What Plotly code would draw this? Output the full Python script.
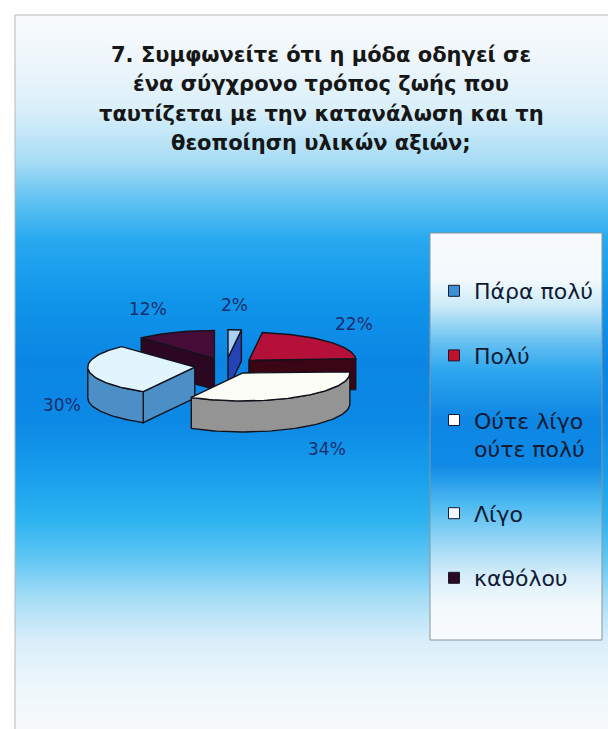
import numpy as np
import plotly.graph_objects as go

# ---- data -------------------------------------------------------------
categories = ["Πάρα πολύ", "Πολύ", "Ούτε λίγο ούτε πολύ", "Λίγο", "καθόλου"]
legend_text = ["Πάρα πολύ", "Πολύ", "Ούτε λίγο<br>ούτε πολύ", "Λίγο", "καθόλου"]
percent = [2, 22, 34, 30, 12]
title_lines = [
    "7. Συμφωνείτε ότι η μόδα οδηγεί σε",
    "ένα σύγχρονο τρόπος ζωής που",
    "ταυτίζεται με την κατανάλωση και τη",
    "θεοποίηση υλικών αξιών;",
]

# ---- styling ----------------------------------------------------------
top_colors = ["#a9d0f2", "#b5103a", "#fdfdf7", "#e0f5fd", "#440c36"]
side_colors = ["#2443b5", "#3a0615", "#949494", "#4b8fc6", "#2c0722"]
legend_colors = ["#3d8fd8", "#c0122e", "#ffffff", "#eefaff", "#2b0923"]
OUTLINE = "#12121c"
LABEL_COLOR = "#1c2d6e"
FONT = "DejaVu Sans"

W, H = 608, 729
CX, CY = 226.0, 366.0      # pie centre (pixels)
RX, RY = 107.0, 28.0       # ellipse radii of the tilted pie
DEPTH = 31.0               # thickness of the pie
EXPLODE = 0.294            # radial pull of each slice (fraction of radius)

bg_stops = [(15, "#f8fbfd"), (60, "#eef6fb"), (110, "#d9eff9"), (160, "#a9ddf6"),
            (200, "#62c2f2"), (240, "#27a9ef"), (300, "#1095ea"), (360, "#0b86e4"),
            (420, "#0c88e5"), (470, "#159dec"), (520, "#2db3f0"), (560, "#62c7f3"),
            (600, "#a9ddf6"), (640, "#d8eefa"), (690, "#eff7fb"), (729, "#f6f9fb")]
LEG_X0, LEG_X1, LEG_Y0, LEG_Y1 = 430, 602, 233, 640
leg_stops = [(233, "#f8fbfd"), (280, "#f2f9fc"), (305, "#cdebf8"), (340, "#6cc3f2"),
             (370, "#2ea6ee"), (420, "#0d86e4"), (465, "#0f8ae6"), (505, "#4fbbf1"),
             (540, "#94d5f5"), (575, "#d6edf9"), (605, "#f3f9fc"), (640, "#f8fbfd")]


def gradient_heatmap(x0, x1, stops):
    y0, y1 = stops[0][0], stops[-1][0]
    edges = np.arange(y0, y1 + 1, 2.0)
    if edges[-1] < y1:
        edges = np.append(edges, y1)
    mids = (edges[:-1] + edges[1:]) / 2
    scale = [[(y - y0) / (y1 - y0), c] for y, c in stops]
    return go.Heatmap(x=[x0, x1], y=edges, z=[[m] for m in mids],
                      zmin=y0, zmax=y1, colorscale=scale, showscale=False,
                      hoverinfo="skip")


def rim(cx, cy, deg, dz=0.0):
    t = np.radians(deg)
    return cx + RX * np.sin(t), cy - RY * np.cos(t) + dz


def arc(cx, cy, a, b, dz=0.0):
    n = max(3, int(abs(b - a) / 1.5) + 2)
    return rim(cx, cy, np.linspace(a, b, n), dz)


fig = go.Figure()
fig.add_trace(gradient_heatmap(15, W, bg_stops))
fig.add_trace(gradient_heatmap(LEG_X0, LEG_X1, leg_stops))

# ---- 3-D exploded pie ---------------------------------------------------
total = float(sum(percent))
bounds = np.concatenate([[0.0], np.cumsum(percent)]) / total * 360.0
slices = []
for i, p in enumerate(percent):
    a0, a1 = bounds[i], bounds[i + 1]
    mid = (a0 + a1) / 2
    m = np.radians(mid)
    cx = CX + EXPLODE * RX * np.sin(m)
    cy = CY - EXPLODE * RY * np.cos(m)
    slices.append(dict(i=i, a0=a0, a1=a1, mid=mid, cx=cx, cy=cy))

for s in sorted(slices, key=lambda s: s["cy"]):
    i, a0, a1, cx, cy = s["i"], s["a0"], s["a1"], s["cx"], s["cy"]
    faces = []
    # cut faces that turn towards the viewer
    for ang, visible in ((a0, np.sin(np.radians(a0)) < -1e-6),
                         (a1, np.sin(np.radians(a1)) > 1e-6)):
        if visible:
            rx, ry = rim(cx, cy, ang)
            xs = [cx, rx, rx, cx, cx]
            ys = [cy, ry, ry + DEPTH, cy + DEPTH, cy]
            faces.append((xs, ys, side_colors[i]))
    # outer wall on the front half
    lo, hi = max(a0, 90.0), min(a1, 270.0)
    if hi > lo:
        tx, ty = arc(cx, cy, lo, hi)
        bx, by = arc(cx, cy, hi, lo, DEPTH)
        xs = np.concatenate([tx, bx, tx[:1]])
        ys = np.concatenate([ty, by, ty[:1]])
        faces.append((xs, ys, side_colors[i]))
    # top surface
    tx, ty = arc(cx, cy, a0, a1)
    xs = np.concatenate([[cx], tx, [cx]])
    ys = np.concatenate([[cy], ty, [cy]])
    faces.append((xs, ys, top_colors[i]))
    for xs, ys, col in faces:
        fig.add_trace(go.Scatter(x=list(xs), y=list(ys), mode="lines", fill="toself",
                                 fillcolor=col, line=dict(color=OUTLINE, width=1.4),
                                 hoverinfo="skip", showlegend=False))

# ---- percentage labels ---------------------------------------------------
for s in slices:
    m = np.radians(s["mid"])
    sn, cs = np.sin(m), np.cos(m)
    x = CX + RX * (1 + EXPLODE) * sn
    y = CY - RY * (1 + EXPLODE) * cs
    if cs < 0:
        y += DEPTH
    y -= 25 * cs
    if sn > 0.2:
        anchor, x = "left", x + 6
    elif sn < -0.2:
        anchor, x = "right", x - 6
    else:
        anchor = "center"
    fig.add_annotation(x=x, y=y, xref="x", yref="y", text=f"{percent[s['i']]}%",
                       showarrow=False, xanchor=anchor, yanchor="middle",
                       font=dict(family=FONT, size=17, color=LABEL_COLOR))

# ---- legend entries ------------------------------------------------------
for i, name in enumerate(legend_text):
    fig.add_trace(go.Scatter(x=[None], y=[None], mode="markers", name=name,
                             legendgroup=categories[i],
                             marker=dict(symbol="square", size=11, color=legend_colors[i],
                                         line=dict(color="#1a1a2a", width=1)),
                             hoverinfo="skip"))

# ---- title ------------------------------------------------------------------
for k, line in enumerate(title_lines):
    fig.add_annotation(x=321, y=55 + k * 29.3, xref="x", yref="y", text=f"<b>{line}</b>",
                       showarrow=False, xanchor="center", yanchor="middle",
                       font=dict(family=FONT, size=21, color="#161616"))

# frame lines of the chart area and the legend box
fig.add_shape(type="line", x0=15, y0=15, x1=W, y1=15, xref="x", yref="y",
              line=dict(color="#b3b7bb", width=1))
fig.add_shape(type="line", x0=15, y0=15, x1=15, y1=H, xref="x", yref="y",
              line=dict(color="#b3b7bb", width=1))
fig.add_shape(type="rect", x0=LEG_X0, y0=LEG_Y0, x1=LEG_X1, y1=LEG_Y1, xref="x", yref="y",
              line=dict(color="#8a949e", width=1), fillcolor="rgba(0,0,0,0)")

fig.update_layout(
    width=W, height=H, margin=dict(l=0, r=0, t=0, b=0),
    paper_bgcolor="white", plot_bgcolor="white",
    xaxis=dict(range=[0, W], visible=False, fixedrange=True),
    yaxis=dict(range=[H, 0], visible=False, fixedrange=True),
    showlegend=True,
    legend=dict(x=434 / W, xanchor="left", y=1 - 270 / H, yanchor="top",
                bgcolor="rgba(0,0,0,0)", borderwidth=0, tracegroupgap=33,
                valign="top", itemsizing="trace",
                font=dict(family=FONT, size=22, color="#121a33")),
)

fig.write_html("out.html")
